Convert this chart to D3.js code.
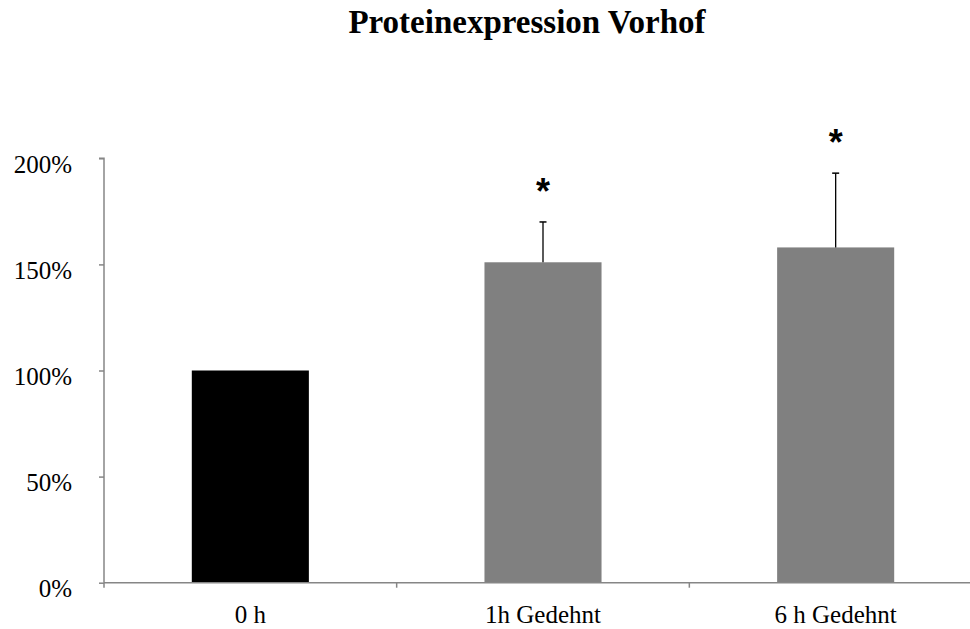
<!DOCTYPE html>
<html>
<head>
<meta charset="utf-8">
<script src="https://cdn.jsdelivr.net/npm/d3@7"></script>
<style>
  html, body { margin: 0; padding: 0; background: #fff; }
  svg { display: block; }
</style>
</head>
<body>
<svg id="chart" width="970" height="629"></svg>
<script>
const title = "Proteinexpression Vorhof";
const categories = ["0 h", "1h Gedehnt", "6 h Gedehnt"];
const values = [100, 151, 158];
const errors = [0, 19, 35];
const significant = [false, true, true];
const barColors = ["#000000", "#808080", "#808080"];
const yTicks = [0, 50, 100, 150, 200];

const svg = d3.select("#chart");
const mLeft = 104, mTop = 158.3, mBottom = 582.7, mRight = 982;

const x = d3.scaleBand().domain(categories).range([mLeft, mRight]).paddingInner(0.6).paddingOuter(0.3);
const y = d3.scaleLinear().domain([0, 200]).range([mBottom, mTop]);
const axisColor = "#868686";

// title
svg.append("text")
  .attr("x", 527).attr("y", 33)
  .attr("text-anchor", "middle")
  .attr("font-family", "'Liberation Serif', 'Times New Roman', serif")
  .attr("font-weight", "bold")
  .attr("font-size", 33)
  .attr("fill", "#000")
  .text(title);

// bars
svg.selectAll("rect.bar").data(values).enter().append("rect")
  .attr("class", "bar")
  .attr("x", (d, i) => x(categories[i]))
  .attr("width", x.bandwidth())
  .attr("y", d => y(d))
  .attr("height", d => y(0) - y(d))
  .attr("fill", (d, i) => barColors[i]);

// error bars
const eg = svg.append("g");
values.forEach((v, i) => {
  if (!errors[i]) return;
  const cx = x(categories[i]) + x.bandwidth() / 2;
  eg.append("line").attr("x1", cx).attr("x2", cx)
    .attr("y1", y(v)).attr("y2", y(v + errors[i]))
    .attr("stroke", "#000").attr("stroke-width", 1.3);
  eg.append("line").attr("x1", cx - 3.5).attr("x2", cx + 3.5)
    .attr("y1", y(v + errors[i])).attr("y2", y(v + errors[i]))
    .attr("stroke", "#000").attr("stroke-width", 1.5);
  if (significant[i]) {
    eg.append("text")
      .attr("x", cx).attr("y", y(v + errors[i]) - 38 + 20)
      .attr("text-anchor", "middle")
      .attr("font-family", "'Liberation Sans', Arial, sans-serif")
      .attr("font-weight", "bold")
      .attr("font-size", 36)
      .attr("fill", "#000")
      .text("*");
  }
});

// y axis
const yAxis = d3.axisLeft(y).tickValues(yTicks).tickSize(5).tickFormat(d => d + "%");
const gy = svg.append("g").attr("transform", `translate(${mLeft},0)`).call(yAxis);
gy.select(".domain").attr("stroke", axisColor).attr("stroke-width", 1.5).attr("d", `M-5,${mTop}H0V${mBottom}`);
gy.selectAll(".tick line").attr("stroke", axisColor).attr("stroke-width", 1.5);
gy.selectAll(".tick text")
  .attr("x", -32).attr("dy", "0.55em")
  .attr("font-family", "'Liberation Serif', 'Times New Roman', serif")
  .attr("font-size", 25).attr("fill", "#000");

// x axis
const gx = svg.append("g");
gx.append("line").attr("x1", mLeft).attr("x2", mRight).attr("y1", mBottom).attr("y2", mBottom)
  .attr("stroke", axisColor).attr("stroke-width", 1.5);
const bounds = categories.map(c => x(c) - x.step() * 0.3).concat([mRight]);
bounds[0] = mLeft;
gx.selectAll("line.tk").data(bounds).enter().append("line").attr("class", "tk")
  .attr("x1", d => d).attr("x2", d => d).attr("y1", mBottom).attr("y2", mBottom + 5)
  .attr("stroke", axisColor).attr("stroke-width", 1.5);
gx.selectAll("text.xl").data(categories).enter().append("text").attr("class", "xl")
  .attr("x", d => x(d) + x.bandwidth() / 2).attr("y", 623)
  .attr("text-anchor", "middle")
  .attr("font-family", "'Liberation Serif', 'Times New Roman', serif")
  .attr("font-size", 25).attr("fill", "#000")
  .text(d => d);
</script>
</body>
</html>
